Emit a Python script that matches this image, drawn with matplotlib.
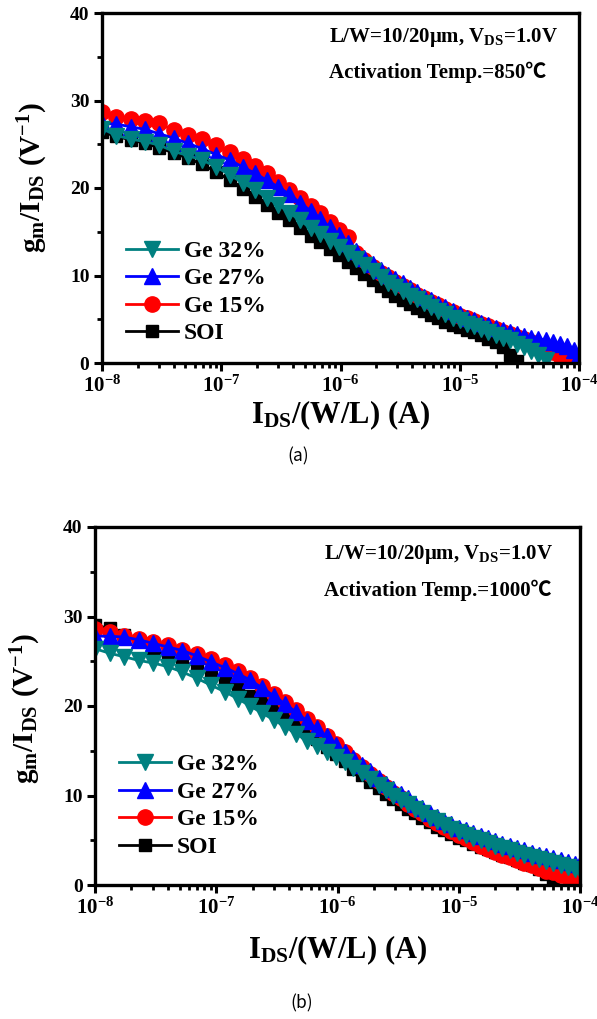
import numpy as np
import matplotlib
matplotlib.use("Agg")
import matplotlib.pyplot as plt
from matplotlib.ticker import NullFormatter, FixedLocator

plt.rcParams['mathtext.fontset'] = 'custom'
plt.rcParams['mathtext.rm'] = 'Liberation Serif:bold'
plt.rcParams['mathtext.it'] = 'Liberation Serif:bold'
plt.rcParams['mathtext.bf'] = 'Liberation Serif:bold'
plt.rcParams['font.family'] = ['Liberation Serif', 'Noto Sans CJK KR']
plt.rcParams['font.weight'] = 'bold'

# ---------------- data (x = log10 of I_DS/(W/L)) ----------------
log_ids = [-8.00, -7.88, -7.76, -7.64, -7.52, -7.40, -7.28, -7.16, -7.04, -6.93,
           -6.82, -6.72, -6.62, -6.52, -6.43, -6.34, -6.25, -6.17, -6.09, -6.01,
           -5.94, -5.87, -5.80, -5.73, -5.66, -5.60, -5.54, -5.48, -5.42, -5.36,
           -5.30, -5.24, -5.18, -5.12, -5.06, -5.00, -4.94, -4.88, -4.82, -4.76,
           -4.70, -4.64, -4.58, -4.52, -4.46, -4.40, -4.34, -4.28, -4.22, -4.16,
           -4.10, -4.04, -4.00]

labels = ['Ge 32%', 'Ge 27%', 'Ge 15%', 'SOI']

# (a) activation 850 C
a_ge32 = [26.8, 26.0, 25.6, 25.3, 24.9, 24.2, 23.7, 23.2, 22.4, 21.5,
          20.6, 19.8, 18.9, 18.1, 17.2, 16.3, 15.4, 14.7, 14.0, 13.3,
          12.6, 11.9, 11.2, 10.5, 9.8, 9.2, 8.7, 8.2, 7.7, 7.3,
          6.9, 6.4, 6.0, 5.6, 5.2, 4.9, 4.5, 4.2, 3.9, 3.5,
          3.2, 2.9, 2.6, 2.2, 1.8, 1.4, 0.9, 0.3]
a_ge27 = [27.4, 27.3, 27.0, 26.7, 26.2, 25.7, 25.1, 24.5, 23.8, 23.2,
          22.4, 21.7, 20.9, 20.1, 19.3, 18.3, 17.4, 16.5, 15.5, 14.6,
          13.7, 12.8, 12.0, 11.3, 10.6, 10.1, 9.6, 9.1, 8.6, 8.1,
          7.6, 7.2, 6.8, 6.4, 6.0, 5.6, 5.2, 4.9, 4.6, 4.3,
          4.0, 3.8, 3.5, 3.3, 3.1, 2.9, 2.8, 2.6, 2.4, 2.2,
          2.0, 1.5, 0.9]
a_ge15 = [28.7, 28.1, 27.9, 27.7, 27.4, 26.6, 26.1, 25.6, 24.9, 24.1,
          23.3, 22.5, 21.7, 20.7, 19.8, 18.9, 18.0, 17.1, 16.1, 15.2,
          14.4, 12.6, 11.8, 11.0, 10.3, 9.8, 9.3, 8.8, 8.3, 7.8,
          7.4, 7.0, 6.6, 6.2, 5.8, 5.4, 5.1, 4.8, 4.5, 4.2,
          3.9, 3.6, 3.3, 3.0, 2.7, 2.4, 2.0, 1.7, 1.3, 0.8,
          0.3]
a_soi = [26.4, 25.9, 25.5, 25.1, 24.6, 24.0, 23.4, 22.7, 21.8, 20.9,
         19.9, 19.0, 18.1, 17.2, 16.3, 15.4, 14.5, 13.8, 13.0, 12.3,
         11.6, 10.9, 10.2, 9.5, 8.8, 8.2, 7.7, 7.2, 6.7, 6.3,
         5.9, 5.5, 5.1, 4.7, 4.4, 4.1, 3.8, 3.5, 3.2, 2.8,
         2.4, 1.8, 0.9, 0.2]

# (b) activation 1000 C
b_ge32 = [26.4, 25.9, 25.5, 25.1, 24.8, 24.4, 23.8, 23.1, 22.3, 21.6,
          20.8, 20.0, 19.2, 18.4, 17.7, 16.9, 16.1, 15.5, 14.9, 14.3,
          13.7, 13.1, 12.5, 11.8, 11.2, 10.6, 10.0, 9.5, 9.0, 8.5,
          8.0, 7.5, 7.1, 6.7, 6.3, 5.9, 5.6, 5.3, 5.0, 4.7,
          4.4, 4.1, 3.9, 3.6, 3.4, 3.1, 2.9, 2.7, 2.5, 2.2,
          2.0, 1.8, 1.7]
b_ge27 = [27.8, 27.8, 27.7, 27.4, 27.0, 26.6, 26.2, 25.6, 24.9, 24.3,
          23.6, 22.9, 22.0, 21.1, 20.2, 19.3, 18.3, 17.5, 16.6, 15.6,
          14.9, 14.2, 13.4, 12.7, 12.0, 11.3, 10.7, 10.2, 9.7, 9.1,
          8.6, 8.1, 7.6, 7.2, 6.8, 6.4, 6.1, 5.8, 5.5, 5.2,
          4.9, 4.6, 4.4, 4.1, 3.9, 3.6, 3.4, 3.2, 3.0, 2.8,
          2.6, 2.4, 2.3]
b_ge15 = [28.6, 28.3, 27.8, 27.5, 27.2, 26.8, 26.3, 25.8, 25.2, 24.6,
          23.9, 23.1, 22.2, 21.3, 20.4, 19.5, 18.5, 17.6, 16.7, 15.8,
          14.9, 14.0, 13.2, 12.4, 11.6, 10.9, 10.3, 9.7, 9.1, 8.5,
          8.0, 7.4, 6.9, 6.5, 6.0, 5.6, 5.2, 4.8, 4.4, 4.0,
          3.7, 3.4, 3.1, 2.8, 2.5, 2.2, 1.9, 1.6, 1.4, 1.1,
          0.9, 0.7, 0.6]
b_soi = [29.0, 28.7, 27.9, 27.3, 26.3, 25.6, 25.0, 24.4, 23.5, 22.7,
         21.9, 21.1, 20.3, 19.5, 18.7, 17.9, 17.1, 16.3, 15.4, 14.6,
         13.8, 13.0, 12.3, 11.5, 10.8, 10.2, 9.6, 9.0, 8.5, 8.0,
         7.5, 7.0, 6.5, 6.1, 5.7, 5.3, 5.0, 4.6, 4.3, 4.0,
         3.7, 3.4, 3.1, 2.8, 2.5, 2.2, 1.8, 1.2, 0.3]

xtick_vals = [1e-8, 1e-7, 1e-6, 1e-5, 1e-4]
xtick_labels = [r'$\mathrm{10^{-8}}$', r'$\mathrm{10^{-7}}$', r'$\mathrm{10^{-6}}$',
                r'$\mathrm{10^{-5}}$', r'$\mathrm{10^{-4}}$']
ytick_vals = [0, 10, 20, 30, 40]

styles = {'SOI': ('black', 's', 9),
          'Ge 15%': ('#ff0000', 'o', 11),
          'Ge 27%': ('#0000ff', '^', 12),
          'Ge 32%': ('#008080', 'v', 12)}

fig = plt.figure(figsize=(5.97, 10.19), dpi=100)


def panel(rect, series, temp, leg_anchor, text_x, text_y, ylab_xy, xlab_y):
    ax = fig.add_axes(rect)
    x = np.array(log_ids)
    handles = {}
    for name in ['SOI', 'Ge 15%', 'Ge 27%', 'Ge 32%']:
        y = series[name]
        c, m, ms = styles[name]
        h, = ax.plot(10 ** x[:len(y)], y, color=c, marker=m, ms=ms, mec=c, mfc=c,
                     lw=2, label=name)
        handles[name] = h
    ax.set_xscale('log')
    ax.set_xlim(1e-8, 1e-4)
    ax.set_ylim(0, 40)
    ax.xaxis.set_major_locator(FixedLocator(xtick_vals))
    ax.set_xticklabels(xtick_labels, fontsize=15)
    ax.xaxis.set_minor_formatter(NullFormatter())
    ax.set_yticks(ytick_vals)
    ax.set_yticklabels([str(v) for v in ytick_vals], fontsize=14, fontweight='bold')
    ax.set_yticks([5, 15, 25, 35], minor=True)
    ax.tick_params(which='major', direction='out', length=6, width=2.2,
                   top=False, right=False, pad=3)
    ax.tick_params(which='minor', direction='out', length=3.5, width=2,
                   top=False, right=False)
    for s in ax.spines.values():
        s.set_linewidth(2.4)

    ax.set_ylabel(r'$\mathrm{g_m/I_{DS}\ (V^{-1})}$', fontsize=21)
    ax.yaxis.set_label_coords(*ylab_xy)
    ax.set_xlabel(r'$\mathrm{I_{DS}/(W/L)\ (A)}$', fontsize=22)
    ax.xaxis.set_label_coords(0.5, xlab_y)

    ax.text(text_x, text_y[0], r'L/W=10/20μm, V$_{\mathrm{DS}}$=1.0V',
            transform=ax.transAxes, fontsize=15, fontweight='bold',
            ha='left', va='center')
    ax.text(text_x, text_y[1], 'Activation Temp.=' + temp + '℃',
            transform=ax.transAxes, fontsize=15, fontweight='bold',
            ha='left', va='center')

    ax.legend([handles[n] for n in labels], labels, loc='upper left',
              bbox_to_anchor=leg_anchor, frameon=False, numpoints=1,
              prop={'family': 'Liberation Serif', 'weight': 'bold', 'size': 17},
              handlelength=2.2, handletextpad=0.25, labelspacing=0.25,
              borderpad=0, borderaxespad=0)
    return ax


panel([102 / 597, 1 - 363 / 1019, 477 / 597, 350 / 1019],
      {'Ge 32%': a_ge32, 'Ge 27%': a_ge27, 'Ge 15%': a_ge15, 'SOI': a_soi},
      '850', (0.05, 0.35), 0.476, (0.929, 0.831), (-0.108, 0.53), -0.102)
panel([95 / 597, 1 - 885 / 1019, 485 / 597, 358 / 1019],
      {'Ge 32%': b_ge32, 'Ge 27%': b_ge27, 'Ge 15%': b_ge15, 'SOI': b_soi},
      '1000', (0.05, 0.366), 0.472, (0.922, 0.824), (-0.108, 0.494), -0.135)

fig.text(0.5, 1 - 456 / 1019, '(a)', ha='center', va='center',
         fontsize=12.5, family='Noto Sans CJK KR', fontweight='normal')
fig.text(0.505, 1 - 1003 / 1019, '(b)', ha='center', va='center',
         fontsize=12.5, family='Noto Sans CJK KR', fontweight='normal')

fig.savefig('out.png', dpi=100)
